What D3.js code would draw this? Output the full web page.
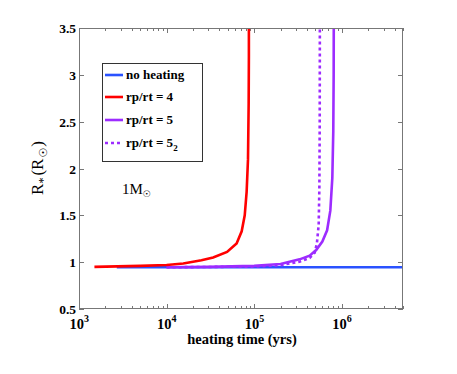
<!DOCTYPE html>
<html><head><meta charset="utf-8">
<script src="https://cdn.jsdelivr.net/npm/d3@7"></script>
<style>body{margin:0;background:#fff}svg{display:block}text{font-family:"Liberation Serif","Times New Roman",serif}</style>
</head><body><svg id="c" width="457" height="374"></svg>
<script>
const noHeatT=[2700,5000000], noHeatR=[0.945,0.945];
const rp4T=[1500,5000,10000,15500,25000,34000,49000,63000,72000,78000,82000,85000,86500,87000,87000];
const rp4R=[0.95,0.96,0.97,0.985,1.02,1.05,1.11,1.2,1.33,1.5,1.75,2.1,2.7,3.2,3.5];
const rp5T=[10000,30000,100000,200000,330000,430000,510000,600000,680000,740000,780000,800000,808000,810000];
const rp5R=[0.945,0.95,0.96,0.98,1.03,1.07,1.13,1.22,1.34,1.55,1.9,2.4,3.0,3.5];
const rp52T=[10000,100000,200000,330000,430000,490000,520000,545000,555000,560000,562000];
const rp52R=[0.945,0.953,0.968,1.005,1.045,1.1,1.2,1.4,1.8,2.5,3.5];
const xTickExp=[3,4,5,6];
const yTicks=[0.5,1,1.5,2,2.5,3,3.5];
const legendLabels=["no heating","rp/rt = 4","rp/rt = 5","rp/rt = 5"];

const svg=d3.select("#c");
const L=79,R=403,T=28,B=309;
const x=d3.scaleLog().domain([1000,5000000]).range([L,R]);
const y=d3.scaleLinear().domain([0.5,3.5]).range([B,T]);
const blue="#2a52ff", red="#ff0000", purple="#9d2cff";

svg.append("clipPath").attr("id","cp").append("rect").attr("x",L).attr("y",T).attr("width",R-L).attr("height",B-T);

const g=svg.append("g").attr("stroke","#777").attr("stroke-width",1);
const majors=xTickExp.map(e=>Math.pow(10,e));
const minors=[];
for(let e=3;e<=6;e++)for(let k=2;k<=9;k++){const v=k*Math.pow(10,e);if(v<=5000000)minors.push(v);}
majors.forEach(v=>{const px=Math.round(x(v))+0.5;
  g.append("line").attr("x1",px).attr("x2",px).attr("y1",B).attr("y2",B-5);
  g.append("line").attr("x1",px).attr("x2",px).attr("y1",T).attr("y2",T+5);});
minors.forEach(v=>{const px=Math.round(x(v))+0.5;
  g.append("line").attr("x1",px).attr("x2",px).attr("y1",B).attr("y2",B-3);
  g.append("line").attr("x1",px).attr("x2",px).attr("y1",T).attr("y2",T+3);});
yTicks.forEach(v=>{const py=Math.round(y(v))+0.5;
  g.append("line").attr("x1",L).attr("x2",L+5).attr("y1",py).attr("y2",py);
  g.append("line").attr("x1",R).attr("x2",R-5).attr("y1",py).attr("y2",py);});

const line=d3.line().x(d=>x(d[0])).y(d=>y(d[1]));
const lg=svg.append("g").attr("clip-path","url(#cp)").attr("fill","none").attr("stroke-width",2.6);
lg.append("path").datum(noHeatT.map((t,i)=>[t,noHeatR[i]])).attr("d",line).attr("stroke",blue);
lg.append("path").datum(rp52T.map((t,i)=>[t,rp52R[i]])).attr("d",line).attr("stroke",purple).attr("stroke-dasharray","3,3");
lg.append("path").datum(rp5T.map((t,i)=>[t,rp5R[i]])).attr("d",line).attr("stroke",purple);
lg.append("path").datum(rp4T.map((t,i)=>[t,rp4R[i]])).attr("d",line).attr("stroke",red);

svg.append("rect").attr("x",L+0.5).attr("y",T+0.5).attr("width",R-L-1).attr("height",B-T-1).attr("fill","none").attr("stroke","#777");

yTicks.forEach(v=>{svg.append("text").attr("x",L-3).attr("y",y(v)+5).attr("text-anchor","end")
  .attr("font-size",13.5).attr("font-weight","bold").text(v===1||v===2||v===3?String(v):v.toFixed(1));});
xTickExp.forEach(e=>{const t=svg.append("text").attr("x",x(Math.pow(10,e))-9.5).attr("y",329).attr("text-anchor","start")
  .attr("font-size",14.5).attr("font-weight","bold");
  t.append("tspan").text("10");
  t.append("tspan").attr("dy",-7.5).attr("font-size",10).text(String(e));});

svg.append("text").attr("x",242).attr("y",344).attr("text-anchor","middle").attr("font-size",14.5).attr("font-weight","bold").text("heating time (yrs)");
const yl=svg.append("text").attr("transform","translate(43,168) rotate(-90)").attr("text-anchor","middle").attr("font-size",17);
yl.append("tspan").text("R");
yl.append("tspan").attr("dy",4).attr("font-size",12).text("*");
yl.append("tspan").attr("dy",-4).attr("dx",2).text("(R");
yl.append("tspan").attr("dy",4).attr("dx",1).attr("font-size",11).attr("font-family","DejaVu Sans").text("☉");
yl.append("tspan").attr("dy",-4).attr("dx",1).text(")");

const ms=svg.append("text").attr("x",122).attr("y",194).attr("font-size",15);
ms.append("tspan").text("1M");
ms.append("tspan").attr("dy",3).attr("font-size",9).attr("font-family","DejaVu Sans").text("☉");

svg.append("rect").attr("x",102.5).attr("y",63.5).attr("width",100).attr("height",98).attr("fill","#fff").attr("stroke","#333");
const lc=[blue,red,purple,purple], ld=[null,null,null,"3,3"], ly=[75,97,120,143];
legendLabels.forEach((s,i)=>{
  svg.append("line").attr("x1",105).attr("x2",123).attr("y1",ly[i]).attr("y2",ly[i]).attr("stroke",lc[i]).attr("stroke-width",2.6).attr("stroke-dasharray",ld[i]);
  const t=svg.append("text").attr("x",126).attr("y",ly[i]+4).attr("font-size",13).attr("font-weight","bold").text(s);
  if(i===3)t.append("tspan").attr("dy",4).attr("font-size",9).text("2");
});
</script></body></html>
